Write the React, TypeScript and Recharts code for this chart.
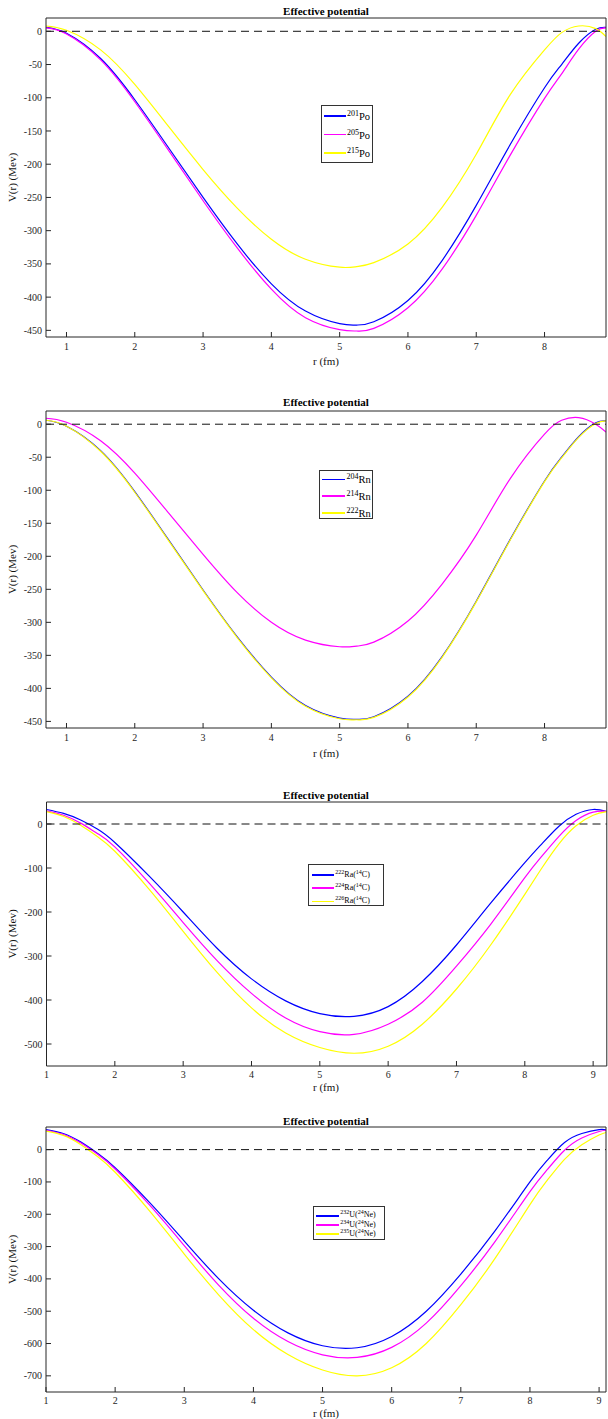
import React from 'react';
import { LineChart, Line, XAxis, YAxis, ReferenceLine, Legend, Label } from 'recharts';

const FONT = '"Liberation Serif", "Times New Roman", Times, serif';
const AXIS = '#262626';
const BLUE = '#0000ff';
const MAGENTA = '#ff00ff';
const YELLOW = '#ffff00';
const TITLE = 'Effective potential';
const XLABEL = 'r (fm)';
const YLABEL = 'V(r) (Mev)';

// ---------- Panel 1 : Po ----------
const p1R = [0.7, 1, 1.5, 2, 2.5, 3, 3.5, 4, 4.5, 5, 5.25, 5.5, 6, 6.5, 7, 7.5, 8, 8.25, 8.5, 8.75, 8.9];
const p1Po201 = [6, -3, -41, -103, -176, -250, -320, -380, -421, -440, -442, -437, -405, -345, -262, -170, -85, -50, -18, 3, 6];
const p1Po205 = [5, -4, -43, -106, -180, -255, -326, -388, -431, -449, -451, -447, -416, -358, -277, -186, -101, -64, -27, 0, 5];
const p1Po215 = [8, 1.5, -28, -80, -144, -208, -266, -313, -343, -355, -354, -348, -320, -265, -185, -95, -28, -2, 8, 4, -8];
const p1Mass = ['201', '205', '215'];
const p1XTicks = [1, 2, 3, 4, 5, 6, 7, 8];
const p1YTicks = [-450, -400, -350, -300, -250, -200, -150, -100, -50, 0];

// ---------- Panel 2 : Rn ----------
const p2R = [0.7, 1, 1.5, 2, 2.5, 3, 3.5, 4, 4.5, 5, 5.25, 5.5, 6, 6.5, 7, 7.5, 8, 8.25, 8.5, 8.75, 8.9];
const p2Rn204 = [6, -3, -40, -102, -176, -251, -322, -383, -426, -445, -447, -443, -412, -352, -268, -174, -86, -50, -19, 2, 5];
const p2Rn214 = [9, 3, -25, -74, -135, -197, -255, -300, -327, -337, -336, -330, -298, -242, -168, -82, -15, 6, 10, 0, -12];
const p2Rn222 = [6, -3, -41, -103, -177, -252, -323, -384, -427, -446, -447.5, -444, -413, -353, -269, -175, -87, -51, -20, 1, 5];
const p2Mass = ['204', '214', '222'];
const p2XTicks = [1, 2, 3, 4, 5, 6, 7, 8];
const p2YTicks = [-450, -400, -350, -300, -250, -200, -150, -100, -50, 0];

// ---------- Panel 3 : Ra(14C) ----------
const p3R = [1, 1.25, 1.5, 1.75, 2, 2.5, 3, 3.5, 4, 4.5, 5, 5.5, 6, 6.5, 7, 7.5, 8, 8.25, 8.5, 8.75, 9, 9.2];
const p3Ra222 = [33, 24, 9, -12, -42, -118, -200, -283, -352, -402, -431, -437, -415, -358, -275, -180, -88, -45, -5, 22, 33, 28];
const p3Ra224 = [30, 20, 2, -22, -52, -134, -224, -311, -385, -441, -472, -478, -455, -405, -323, -228, -122, -73, -28, 8, 27, 29];
const p3Ra226 = [28, 17, -3, -29, -62, -148, -244, -338, -418, -475, -508, -521, -505, -455, -375, -275, -160, -100, -45, -4, 20, 28];
const p3Mass = ['222', '224', '226'];
const p3XTicks = [1, 2, 3, 4, 5, 6, 7, 8, 9];
const p3YTicks = [-500, -400, -300, -200, -100, 0];

// ---------- Panel 4 : U(24Ne) ----------
const p4R = [1, 1.25, 1.5, 1.75, 2, 2.5, 3, 3.5, 4, 4.5, 5, 5.5, 6, 6.5, 7, 7.5, 8, 8.25, 8.5, 8.75, 9, 9.1];
const p4U232 = [62, 50, 24, -12, -56, -164, -283, -400, -497, -567, -607, -613, -578, -500, -385, -250, -100, -33, 22, 50, 62, 61];
const p4U234 = [60, 47, 21, -15, -60, -172, -297, -420, -522, -594, -635, -643, -612, -537, -421, -283, -130, -62, -2, 36, 56, 60];
const p4U235 = [57, 44, 16, -22, -70, -190, -323, -450, -557, -634, -682, -700, -675, -600, -480, -335, -170, -95, -30, 15, 45, 53];
const p4Mass = ['232', '234', '235'];
const p4XTicks = [1, 2, 3, 4, 5, 6, 7, 8, 9];
const p4YTicks = [-700, -600, -500, -400, -300, -200, -100, 0];

const COLORS = [BLUE, MAGENTA, YELLOW];

type Seg = { t: string; sup?: boolean };

function buildTable(r: number[], cols: number[][]) {
  return r.map((x, i) => {
    const row: Record<string, number> = { r: x };
    cols.forEach((c, j) => {
      row['s' + j] = c[i];
    });
    return row;
  });
}

type LegendCfg = {
  x: number; y: number; w: number; h: number;
  rows: number[]; lx: number; lw: number; tx: number;
  main: number; sup: number; bo: number;
};

type PanelCfg = {
  top: number; height: number;
  margin: { top: number; right: number; bottom: number; left: number };
  xAxisH: number; tickMargin: number;
  data: Record<string, number>[];
  labels: Seg[][];
  xDomain: [number, number]; xTicks: number[];
  yDomain: [number, number]; yTicks: number[];
  legend: LegendCfg;
  titleY: number; xLabelY: number; yLabelCY: number; cx: number;
};

function LegendBox({ cfg, labels }: { cfg: LegendCfg; labels: Seg[][] }) {
  return (
    <div
      style={{
        position: 'relative', width: cfg.w, height: cfg.h, border: '1px solid #333',
        background: '#fff', boxSizing: 'border-box', fontFamily: FONT, color: '#000',
      }}
    >
      {labels.map((segs, i) => (
        <div key={i} style={{ position: 'absolute', left: 0, top: cfg.rows[i], width: '100%', height: 0 }}>
          <div style={{ position: 'absolute', left: cfg.lx, width: cfg.lw, top: -1, height: 1.5, background: COLORS[i] }} />
          <div
            style={{
              position: 'absolute', left: cfg.tx, top: cfg.bo - cfg.main * 0.89,
              whiteSpace: 'nowrap', fontSize: cfg.main, lineHeight: 1,
            }}
          >
            {segs.map((s, k) =>
              s.sup ? (
                <span key={k} style={{ fontSize: cfg.sup, position: 'relative', top: -cfg.main * 0.38 }}>{s.t}</span>
              ) : (
                <span key={k}>{s.t}</span>
              )
            )}
          </div>
        </div>
      ))}
    </div>
  );
}

const tickStyle = { fill: AXIS, fontSize: 10, fontFamily: FONT };

function Panel({ cfg }: { cfg: PanelCfg }) {
  return (
    <div style={{ position: 'absolute', left: 0, top: cfg.top }}>
      <LineChart width={608} height={cfg.height} data={cfg.data} margin={cfg.margin}>
        <XAxis
          xAxisId="b" dataKey="r" type="number" domain={cfg.xDomain} ticks={cfg.xTicks}
          allowDataOverflow interval={0} orientation="bottom" height={cfg.xAxisH}
          tickSize={-5} tickMargin={cfg.tickMargin} stroke={AXIS} tick={tickStyle}
        >
          <Label
            content={() => (
              <text x={cfg.cx} y={cfg.xLabelY} textAnchor="middle" fontSize={11} fontFamily={FONT} fill="#111">
                {XLABEL}
              </text>
            )}
          />
        </XAxis>
        <XAxis
          xAxisId="t" dataKey="r" type="number" domain={cfg.xDomain} ticks={cfg.xTicks}
          allowDataOverflow interval={0} orientation="top" height={1}
          tickSize={-5} tick={false} stroke={AXIS}
        >
          <Label
            content={() => (
              <text x={cfg.cx} y={cfg.titleY} textAnchor="middle" fontSize={11} fontWeight="bold" fontFamily={FONT} fill="#000">
                {TITLE}
              </text>
            )}
          />
        </XAxis>
        <YAxis
          yAxisId="l" type="number" domain={cfg.yDomain} ticks={cfg.yTicks} allowDataOverflow
          interval={0} width={36} tickSize={-5} tickMargin={9} stroke={AXIS} tick={tickStyle}
        >
          <Label
            content={() => (
              <text
                x={12} y={cfg.yLabelCY} transform={`rotate(-90 12 ${cfg.yLabelCY})`}
                textAnchor="middle" dominantBaseline="central" fontSize={11} fontFamily={FONT} fill="#111"
              >
                {YLABEL}
              </text>
            )}
          />
        </YAxis>
        <YAxis
          yAxisId="r" orientation="right" type="number" domain={cfg.yDomain} ticks={cfg.yTicks}
          allowDataOverflow interval={0} width={1} tickSize={-5} tick={false} stroke={AXIS}
        />
        {/* invisible series that binds the mirrored top/right axes */}
        <Line
          xAxisId="t" yAxisId="r" dataKey="s0" stroke="none" strokeWidth={0} dot={false}
          activeDot={false} legendType="none" isAnimationActive={false}
        />
        {cfg.labels.map((_, i) => (
          <Line
            key={i} xAxisId="b" yAxisId="l" dataKey={'s' + i}
            name={cfg.labels[i].map((s) => s.t).join('')}
            stroke={COLORS[i]} strokeWidth={1.2} dot={false} activeDot={false}
            type="natural" isAnimationActive={false}
          />
        ))}
        <ReferenceLine xAxisId="b" yAxisId="l" y={0} stroke="#111" strokeWidth={1} strokeDasharray="8 5" />
        <Legend
          layout="vertical" align="center" verticalAlign="middle"
          wrapperStyle={{ left: cfg.legend.x, top: cfg.legend.y, right: 'auto', bottom: 'auto', width: 'auto', height: 'auto' }}
          content={() => <LegendBox cfg={cfg.legend} labels={cfg.labels} />}
        />
      </LineChart>
    </div>
  );
}

const simpleLabels = (mass: string[], el: string): Seg[][] => mass.map((m) => [{ t: m, sup: true }, { t: el }]);
const clusterLabels = (mass: string[], el: string, cm: string, c: string): Seg[][] =>
  mass.map((m) => [{ t: m, sup: true }, { t: el + '(' }, { t: cm, sup: true }, { t: c + ')' }]);

const panels: PanelCfg[] = [
  {
    top: 0, height: 380, margin: { top: 17, right: 1, bottom: 13, left: 10 }, xAxisH: 30, tickMargin: 11,
    data: buildTable(p1R, [p1Po201, p1Po205, p1Po215]),
    labels: simpleLabels(p1Mass, 'Po'),
    xDomain: [0.7, 8.9], xTicks: p1XTicks, yDomain: [-460, 20], yTicks: p1YTicks,
    legend: { x: 320.5, y: 105, w: 52, h: 58, rows: [10, 28.7, 47], lx: 2, lw: 22.5, tx: 25.5, main: 10.5, sup: 8, bo: 5.5 },
    titleY: 14.5, xLabelY: 364.5, yLabelCY: 177.5, cx: 326,
  },
  {
    top: 390, height: 380, margin: { top: 20, right: 1, bottom: 12, left: 10 }, xAxisH: 30, tickMargin: 11,
    data: buildTable(p2R, [p2Rn204, p2Rn214, p2Rn222]),
    labels: simpleLabels(p2Mass, 'Rn'),
    xDomain: [0.7, 8.9], xTicks: p2XTicks, yDomain: [-460, 20], yTicks: p2YTicks,
    legend: { x: 318.5, y: 80, w: 54, h: 49, rows: [8.7, 25, 42], lx: 2.4, lw: 23, tx: 27, main: 10.5, sup: 8, bo: 5 },
    titleY: 15.5, xLabelY: 366.5, yLabelCY: 179.5, cx: 326,
  },
  {
    top: 780, height: 330, margin: { top: 21, right: 0.2, bottom: 14, left: 10.5 }, xAxisH: 30, tickMargin: 10,
    data: buildTable(p3R, [p3Ra222, p3Ra224, p3Ra226]),
    labels: clusterLabels(p3Mass, 'Ra', '14', 'C'),
    xDomain: [1, 9.2], xTicks: p3XTicks, yDomain: [-550, 50], yTicks: p3YTicks,
    legend: { x: 308.3, y: 84, w: 76, h: 42, rows: [10, 23.3, 36.5], lx: 2.4, lw: 22.6, tx: 26, main: 8, sup: 6, bo: 2.7 },
    titleY: 18.5, xLabelY: 310.5, yLabelCY: 154, cx: 326,
  },
  {
    top: 1110, height: 309, margin: { top: 16, right: 1, bottom: 2, left: 10 }, xAxisH: 25, tickMargin: 10,
    data: buildTable(p4R, [p4U232, p4U234, p4U235]),
    labels: clusterLabels(p4Mass, 'U', '24', 'Ne'),
    xDomain: [1, 9.1], xTicks: p4XTicks, yDomain: [-750, 70], yTicks: p4YTicks,
    legend: { x: 312.7, y: 96, w: 72.5, h: 33.5, rows: [9, 18.3, 27.3], lx: 2.3, lw: 23, tx: 26.5, main: 8, sup: 6, bo: 2.5 },
    titleY: 14.5, xLabelY: 306.5, yLabelCY: 149.5, cx: 326,
  },
];

export default function App() {
  return (
    <div style={{ position: 'absolute', left: 0, top: 0, width: 608, height: 1419, background: '#fff', overflow: 'hidden' }}>
      {panels.map((p, i) => (
        <Panel key={i} cfg={p} />
      ))}
    </div>
  );
}
